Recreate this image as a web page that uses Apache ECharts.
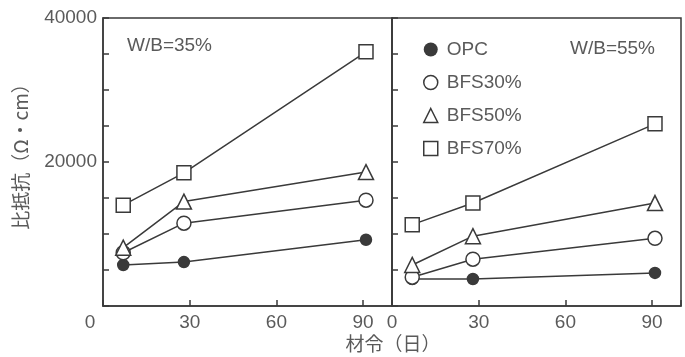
<!DOCTYPE html>
<html>
<head>
<meta charset="utf-8">
<script src="https://cdn.jsdelivr.net/npm/echarts@6/dist/echarts.min.js"></script>
<style>
html, body { margin: 0; padding: 0; background: #fff; }
#main { width: 685px; height: 357px; }
</style>
</head>
<body>
<div id="main"></div>
<script>
// age in days
var days = [7, 28, 91];
var names = ['OPC', 'BFS30%', 'BFS50%', 'BFS70%'];
// W/B=35%
var opc35 = [5700, 6100, 9200];
var bfs30_35 = [7400, 11500, 14700];
var bfs50_35 = [8100, 14500, 18600];
var bfs70_35 = [14000, 18500, 35300];
// W/B=55%
var opc55 = [3750, 3750, 4600];
var bfs30_55 = [4000, 6500, 9400];
var bfs50_55 = [5700, 9700, 14300];
var bfs70_55 = [11300, 14300, 25300];
// tick labels
var xTicks = [0, 30, 60, 90];
var yTicks = [20000, 40000];

var dom = document.getElementById('main');
var myChart = echarts.init(dom);

var ink = '#3a3a3a';
var txt = '#5a5a5a';
var font = 'Liberation Sans';

var marks = {
    'OPC': { symbol: 'circle', size: 11, fill: ink },
    'BFS30%': { symbol: 'circle', size: 14, fill: '#fff' },
    'BFS50%': { symbol: 'triangle', size: 15, fill: '#fff' },
    'BFS70%': { symbol: 'rect', size: 14, fill: '#fff' }
};

function pts(vals) {
    return days.map(function (d, i) { return [d, vals[i]]; });
}

function makeSeries(name, vals, idx) {
    var m = marks[name];
    return {
        name: name,
        type: 'line',
        xAxisIndex: idx,
        yAxisIndex: idx,
        data: pts(vals),
        symbol: m.symbol,
        symbolSize: m.size,
        lineStyle: { color: ink, width: 1.5 },
        itemStyle: { color: m.fill, borderColor: ink, borderWidth: 1.5 },
        emphasis: { disabled: true },
        animation: false
    };
}

function xAxisOf(idx) {
    return {
        type: 'value',
        gridIndex: idx,
        min: 0,
        max: 100,
        interval: 30,
        axisLine: { lineStyle: { color: ink, width: 1.5 } },
        axisTick: { inside: true, length: 6, lineStyle: { color: ink, width: 1.5 } },
        axisLabel: {
            margin: 7,
            color: txt,
            fontSize: 19,
            fontFamily: font,
            formatter: function (v) {
                if (xTicks.indexOf(v) < 0) return '';
                if (v === 0 && idx === 0) return '{z|0}';
                return String(v);
            },
            rich: { z: { fontSize: 19, color: txt, fontFamily: font, padding: [0, 26, 0, 0] } }
        },
        splitLine: { show: false }
    };
}

function yAxisOf(idx) {
    return {
        type: 'value',
        gridIndex: idx,
        min: 0,
        max: 40000,
        interval: 5000,
        axisLine: { lineStyle: { color: ink, width: 1.5 } },
        axisTick: { inside: true, length: 6, lineStyle: { color: ink, width: 1.5 } },
        axisLabel: {
            show: idx === 0,
            margin: 6,
            color: txt,
            fontSize: 19,
            fontFamily: font,
            formatter: function (v) {
                return yTicks.indexOf(v) >= 0 ? String(v) : '';
            }
        },
        splitLine: { show: false }
    };
}

var option = {
    backgroundColor: '#fff',
    animation: false,
    grid: [
        { left: 103, top: 18, width: 289, height: 288, show: true, borderColor: ink, borderWidth: 1.5 },
        { left: 392, top: 18, width: 289, height: 288, show: true, borderColor: ink, borderWidth: 1.5 }
    ],
    xAxis: [xAxisOf(0), xAxisOf(1)],
    yAxis: [yAxisOf(0), yAxisOf(1)],
    title: [
        { text: 'W/B=35%', left: 122, top: 31, textStyle: { color: txt, fontSize: 19, fontWeight: 'normal', fontFamily: font } },
        { text: 'W/B=55%', right: 25, top: 34, textStyle: { color: txt, fontSize: 19, fontWeight: 'normal', fontFamily: font } }
    ],
    legend: {
        orient: 'vertical',
        left: 418,
        top: 35,
        itemWidth: 14,
        itemHeight: 14,
        itemGap: 14,
        selectedMode: false,
        textStyle: { color: txt, fontSize: 19, fontFamily: font, padding: [0, 0, 0, 4] },
        data: [
            { name: 'OPC', icon: 'circle', itemStyle: { color: ink, borderWidth: 0 } },
            { name: 'BFS30%', icon: 'circle', itemStyle: { color: '#fff', borderColor: ink, borderWidth: 1.5 } },
            { name: 'BFS50%', icon: 'triangle', itemStyle: { color: '#fff', borderColor: ink, borderWidth: 1.5 } },
            { name: 'BFS70%', icon: 'rect', itemStyle: { color: '#fff', borderColor: ink, borderWidth: 1.5 } }
        ]
    },
    graphic: [
        {
            type: 'text',
            x: 21,
            y: 152,
            rotation: Math.PI / 2,
            style: {
                text: '比抵抗（Ω・cm）',
                fill: txt,
                font: '19px "Noto Sans CJK JP"',
                textAlign: 'center',
                textVerticalAlign: 'middle'
            }
        },
        {
            type: 'text',
            x: 393,
            y: 344,
            style: {
                text: '材令（日）',
                fill: txt,
                font: '19px "Noto Sans CJK JP"',
                textAlign: 'center',
                textVerticalAlign: 'middle'
            }
        }
    ],
    series: [
        makeSeries('OPC', opc35, 0),
        makeSeries('BFS30%', bfs30_35, 0),
        makeSeries('BFS50%', bfs50_35, 0),
        makeSeries('BFS70%', bfs70_35, 0),
        makeSeries('OPC', opc55, 1),
        makeSeries('BFS30%', bfs30_55, 1),
        makeSeries('BFS50%', bfs50_55, 1),
        makeSeries('BFS70%', bfs70_55, 1)
    ]
};

if (option && typeof option === 'object') {
    myChart.setOption(option);
}
</script>
</body>
</html>
